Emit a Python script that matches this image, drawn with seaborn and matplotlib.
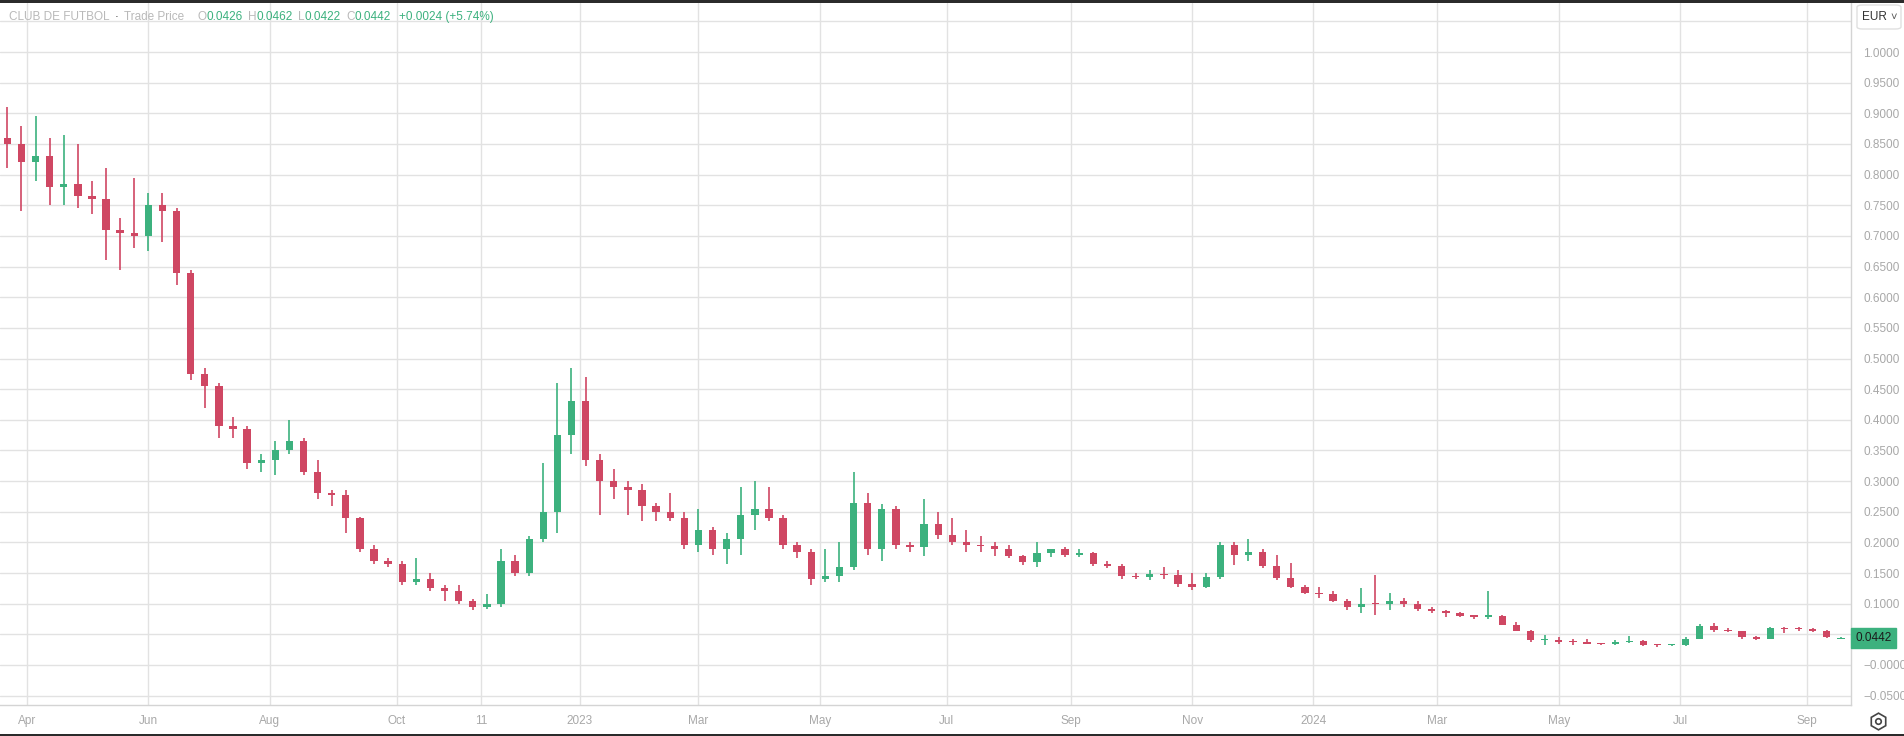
import numpy as np
import pandas as pd
import seaborn as sns
import matplotlib.pyplot as plt
import matplotlib.transforms as mtransforms
from matplotlib.patches import Rectangle, FancyBboxPatch
from matplotlib.lines import Line2D

# weekly candles (EUR), weeks starting Mon 2022-03-21
open_ = [0.86, 0.85, 0.82, 0.83, 0.78, 0.785, 0.765, 0.76, 0.71, 0.705,
         0.70, 0.75, 0.74, 0.64, 0.475, 0.455, 0.39, 0.385, 0.33, 0.335,
         0.35, 0.365, 0.315, 0.28, 0.278, 0.24, 0.19, 0.17, 0.165, 0.135,
         0.14, 0.125, 0.12, 0.105, 0.095, 0.10, 0.17, 0.15, 0.205, 0.25,
         0.375, 0.43, 0.335, 0.30, 0.29, 0.285, 0.26, 0.25, 0.24, 0.195,
         0.22, 0.19, 0.205, 0.245, 0.255, 0.24, 0.195, 0.185, 0.14, 0.145,
         0.16, 0.265, 0.19, 0.255, 0.195, 0.192, 0.23, 0.212, 0.20, 0.196,
         0.194, 0.19, 0.178, 0.168, 0.182, 0.19, 0.18, 0.183, 0.165, 0.162,
         0.145, 0.143, 0.148, 0.147, 0.132, 0.128, 0.143, 0.195, 0.18, 0.185,
         0.162, 0.142, 0.128, 0.118, 0.116, 0.105, 0.095, 0.10, 0.099, 0.105,
         0.10, 0.092, 0.088, 0.085, 0.08, 0.079, 0.08, 0.066, 0.056, 0.04,
         0.041, 0.038, 0.037, 0.035, 0.034, 0.038, 0.039, 0.033, 0.032, 0.0322,
         0.043, 0.064, 0.057, 0.055, 0.045, 0.043, 0.06, 0.059, 0.058, 0.055, 0.0426]
high = [0.91, 0.88, 0.895, 0.86, 0.865, 0.85, 0.79, 0.81, 0.73, 0.795,
        0.77, 0.77, 0.745, 0.645, 0.485, 0.46, 0.405, 0.39, 0.345, 0.365,
        0.40, 0.37, 0.335, 0.285, 0.285, 0.242, 0.195, 0.175, 0.17, 0.175,
        0.15, 0.13, 0.13, 0.107, 0.115, 0.19, 0.18, 0.21, 0.33, 0.46,
        0.485, 0.47, 0.345, 0.32, 0.30, 0.295, 0.265, 0.28, 0.25, 0.255,
        0.225, 0.215, 0.29, 0.30, 0.29, 0.245, 0.20, 0.19, 0.19, 0.20,
        0.315, 0.28, 0.262, 0.26, 0.20, 0.27, 0.25, 0.24, 0.22, 0.21,
        0.20, 0.195, 0.18, 0.20, 0.19, 0.192, 0.19, 0.185, 0.17, 0.165,
        0.15, 0.155, 0.16, 0.155, 0.15, 0.15, 0.20, 0.20, 0.205, 0.19,
        0.18, 0.166, 0.13, 0.128, 0.12, 0.108, 0.125, 0.147, 0.118, 0.11,
        0.105, 0.095, 0.09, 0.086, 0.082, 0.12, 0.082, 0.07, 0.057, 0.049,
        0.045, 0.042, 0.042, 0.036, 0.04, 0.047, 0.04, 0.035, 0.033, 0.045,
        0.067, 0.068, 0.06, 0.056, 0.047, 0.062, 0.062, 0.062, 0.061, 0.057, 0.0462]
low = [0.81, 0.74, 0.79, 0.75, 0.75, 0.745, 0.735, 0.66, 0.645, 0.68,
       0.675, 0.69, 0.62, 0.465, 0.42, 0.37, 0.37, 0.32, 0.315, 0.31,
       0.345, 0.31, 0.27, 0.26, 0.215, 0.185, 0.165, 0.16, 0.13, 0.13,
       0.12, 0.105, 0.10, 0.09, 0.092, 0.095, 0.145, 0.145, 0.20, 0.215,
       0.345, 0.325, 0.245, 0.27, 0.245, 0.235, 0.235, 0.235, 0.19, 0.185,
       0.18, 0.165, 0.18, 0.22, 0.235, 0.19, 0.175, 0.13, 0.135, 0.135,
       0.155, 0.18, 0.17, 0.19, 0.185, 0.178, 0.205, 0.195, 0.185, 0.185,
       0.178, 0.175, 0.163, 0.16, 0.176, 0.176, 0.176, 0.162, 0.158, 0.14,
       0.14, 0.138, 0.14, 0.128, 0.122, 0.125, 0.14, 0.163, 0.17, 0.158,
       0.138, 0.125, 0.115, 0.11, 0.103, 0.09, 0.085, 0.082, 0.09, 0.095,
       0.088, 0.085, 0.078, 0.078, 0.075, 0.075, 0.065, 0.055, 0.038, 0.033,
       0.035, 0.033, 0.034, 0.033, 0.033, 0.036, 0.031, 0.03, 0.031, 0.031,
       0.042, 0.054, 0.053, 0.043, 0.04, 0.042, 0.052, 0.055, 0.053, 0.044, 0.0422]
close = [0.85, 0.82, 0.83, 0.78, 0.785, 0.765, 0.76, 0.71, 0.705, 0.70,
         0.75, 0.74, 0.64, 0.475, 0.455, 0.39, 0.385, 0.33, 0.335, 0.35,
         0.365, 0.315, 0.28, 0.278, 0.24, 0.19, 0.17, 0.165, 0.135, 0.14,
         0.125, 0.12, 0.105, 0.095, 0.10, 0.17, 0.15, 0.205, 0.25, 0.375,
         0.43, 0.335, 0.30, 0.29, 0.285, 0.26, 0.25, 0.24, 0.195, 0.22,
         0.19, 0.205, 0.245, 0.255, 0.24, 0.195, 0.185, 0.14, 0.145, 0.16,
         0.265, 0.19, 0.255, 0.195, 0.192, 0.23, 0.212, 0.20, 0.196, 0.194,
         0.19, 0.178, 0.168, 0.182, 0.19, 0.18, 0.183, 0.165, 0.162, 0.145,
         0.143, 0.148, 0.147, 0.132, 0.128, 0.143, 0.195, 0.18, 0.185, 0.162,
         0.142, 0.128, 0.118, 0.116, 0.105, 0.095, 0.10, 0.099, 0.105, 0.10,
         0.092, 0.088, 0.085, 0.08, 0.079, 0.08, 0.066, 0.056, 0.04, 0.041,
         0.038, 0.037, 0.035, 0.034, 0.038, 0.039, 0.033, 0.032, 0.0322, 0.043,
         0.064, 0.057, 0.055, 0.045, 0.043, 0.06, 0.059, 0.058, 0.055, 0.045, 0.0442]

tick_dates = ["2022-04-01", "2022-06-01", "2022-08-01", "2022-10-03", "2022-11-14",
              "2023-01-02", "2023-03-01", "2023-05-01", "2023-07-03", "2023-09-01",
              "2023-11-01", "2024-01-01", "2024-03-01", "2024-05-01", "2024-07-01",
              "2024-09-02"]
tick_labels = ["Apr", "Jun", "Aug", "Oct", "11", "2023", "Mar", "May", "Jul", "Sep",
               "Nov", "2024", "Mar", "May", "Jul", "Sep"]
price_ticks = [-0.05, 0.0, 0.05, 0.10, 0.15, 0.20, 0.25, 0.30, 0.35, 0.40, 0.45, 0.50,
               0.55, 0.60, 0.65, 0.70, 0.75, 0.80, 0.85, 0.90, 0.95, 1.00, 1.05]
# 0.0500 sits under the last-price tag and 1.05 under the currency button
price_labels = ["\u22120.0500", "\u22120.0000", "", "0.1000", "0.1500", "0.2000",
                "0.2500", "0.3000", "0.3500", "0.4000", "0.4500", "0.5000", "0.5500",
                "0.6000", "0.6500", "0.7000", "0.7500", "0.8000", "0.8500", "0.9000",
                "0.9500", "1.0000", ""]
header = [("CLUB DE FUTBOL", "grey"), ("\u00b7", "dark"), ("Trade Price", "grey"),
          ("O", "grey"), ("0.0426", "green"), ("H", "grey"), ("0.0462", "green"),
          ("L", "grey"), ("0.0422", "green"), ("C", "grey"), ("0.0442", "green"),
          ("+0.0024 (+5.74%)", "green")]
last_price = 0.0442

UP = "#3cb17e"
DOWN = "#cf4763"
GRID = "#e2e2e2"
TXT = "#a8a8a8"

sns.set_style("white")
plt.rcParams["font.family"] = ["Liberation Sans", "DejaVu Sans"]

start = "2022-03-21"
df = pd.DataFrame({"open": open_, "high": high, "low": low, "close": close})
df["week"] = pd.date_range(start, periods=len(df), freq="7D")
df["x"] = np.busday_count(start, df["week"].values.astype("datetime64[D]")) + 2
df["up"] = df["close"] >= df["open"]
df["color"] = np.where(df["up"], UP, DOWN)
df["bottom"] = df[["open", "close"]].min(axis=1)
df["height"] = (df["close"] - df["open"]).abs().clip(lower=0.0018)

tick_x = np.busday_count(start, np.array(tick_dates, dtype="datetime64[D]"))

fig = plt.figure(figsize=(19.04, 7.36), dpi=100)
ax = fig.add_axes([0, 31 / 736, 1851 / 1904, 702 / 736])

ax.vlines(df["x"], df["low"], df["high"], colors=df["color"], linewidth=1.2, zorder=3)
ax.bar(df["x"], df["height"], bottom=df["bottom"], width=2.6, color=df["color"],
       linewidth=0, zorder=4)

ax.set_xlim(-0.6, 655.6)
ax.set_ylim(-0.0653, 1.08)
ax.set_xticks(tick_x)
ax.set_xticklabels(tick_labels)
ax.set_yticks(price_ticks)
ax.set_yticklabels(price_labels)
ax.yaxis.tick_right()
ax.grid(True, color=GRID, linewidth=1, zorder=0)
ax.tick_params(axis="x", length=0, pad=7, labelsize=8.5, labelcolor=TXT)
ax.tick_params(axis="y", length=0, pad=9, labelsize=8.5, labelcolor=TXT)
for side in ["top", "left"]:
    ax.spines[side].set_visible(False)
for side in ["bottom", "right"]:
    ax.spines[side].set_color("#d4d4d4")
    ax.spines[side].set_linewidth(1)

# last price tag on the price scale
trans = mtransforms.blended_transform_factory(ax.transAxes, ax.transData)
ax.text(1.0025, last_price, f"{last_price:.4f}", transform=trans, ha="left", va="center",
        fontsize=8.5, color="#1c1c1c", clip_on=False,
        bbox=dict(boxstyle="square,pad=0.35", fc=UP, ec=UP))

# header line: symbol, source and OHLC of the last bar
colors = {"grey": "#b9b9b9", "dark": "#333333", "green": UP}
gaps = [0, 4, 4, 9, 0, 4, 0, 4, 0, 4, 0, 6]
prev = fig.text(9 / 1904, 1 - 17 / 736, header[0][0], color=colors[header[0][1]],
                fontsize=8.5, va="center", ha="left")
for (txt, c), g in zip(header[1:], gaps[1:]):
    prev = ax.annotate(txt, xy=(1, 0.5), xycoords=prev, xytext=(g, 0),
                       textcoords="offset points", va="center", ha="left",
                       fontsize=8.5, color=colors[c], annotation_clip=False)

# currency button and settings icon on the right
fig.add_artist(FancyBboxPatch((1857 / 1904, 1 - 29 / 736), 44 / 1904, 24 / 736,
                              boxstyle="round,pad=0,rounding_size=0.003",
                              transform=fig.transFigure, fc="white", ec="#e0e0e0", lw=1))
fig.text(1862 / 1904, 1 - 17 / 736, "EUR", fontsize=8.5, color="#333333", va="center")
fig.text(1890 / 1904, 1 - 17 / 736, "\u02c5", fontsize=8, color="#555555", va="center")
fig.add_artist(Line2D([1878 / 1904], [1 - 721 / 736], marker="h", markersize=12,
                      mfc="none", mec="#444444", mew=1.2, transform=fig.transFigure))
fig.add_artist(Line2D([1878 / 1904], [1 - 721 / 736], marker="o", markersize=4,
                      mfc="none", mec="#444444", mew=1.2, transform=fig.transFigure))

# dark screenshot borders
fig.add_artist(Rectangle((0, 1 - 3 / 736), 1, 3 / 736, transform=fig.transFigure,
                         color="#2b2b2b", lw=0))
fig.add_artist(Rectangle((0, 0), 1, 2 / 736, transform=fig.transFigure,
                         color="#2b2b2b", lw=0))

fig.savefig("out.png", dpi=100)
